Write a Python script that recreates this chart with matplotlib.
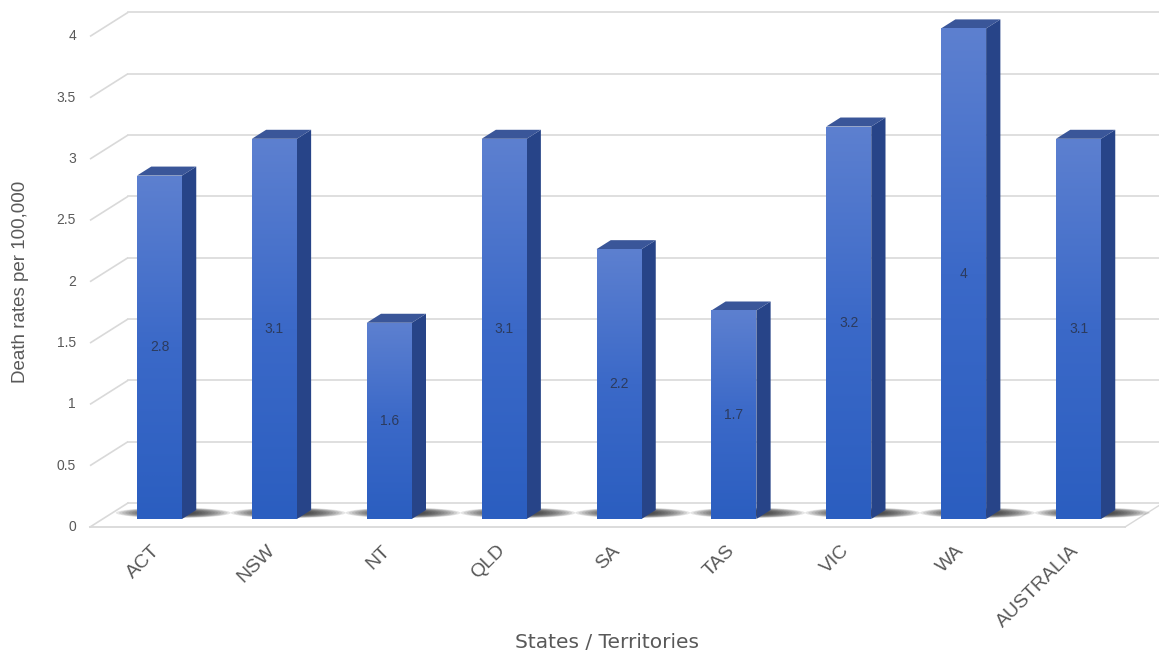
import numpy as np
import matplotlib
matplotlib.use("Agg")
import matplotlib.pyplot as plt
from matplotlib.patches import Polygon, Ellipse
from matplotlib.colors import LinearSegmentedColormap

# ---------------- data ----------------
categories = ["ACT", "NSW", "NT", "QLD", "SA", "TAS", "VIC", "WA", "AUSTRALIA"]
death_rates = [2.8, 3.1, 1.6, 3.1, 2.2, 1.7, 3.2, 4.0, 3.1]
value_labels = ["2.8", "3.1", "1.6", "3.1", "2.2", "1.7", "3.2", "4", "3.1"]
y_ticks = [0, 0.5, 1, 1.5, 2, 2.5, 3, 3.5, 4]
y_tick_labels = ["0", "0.5", "1", "1.5", "2", "2.5", "3", "3.5", "4"]
x_title = "States / Territories"
y_title = "Death rates per 100,000"

# ---------------- layout (pixel calibration) ----------------
W, H = 1159, 655
X0, SX = 159.5, 114.875      # px of first category, px per category
Y0, SY = 519.0, 122.65       # px of value 0 on bar front, px per unit
DDX, DDY = 38 / SX, 24 / SY  # full floor depth in data units
FRONT_FRAC = 1 / 3           # bar front position within depth
BAR_DEPTH = 0.375            # bar depth as fraction of full depth
BAR_W = 45 / SX

fig = plt.figure(figsize=(W / 100, H / 100), dpi=100)
ax = fig.add_axes([0, 0, 1, 1])
ax.set_xlim(-X0 / SX, (W - X0) / SX)
ax.set_ylim((Y0 - H) / SY, Y0 / SY)
ax.axis("off")

def px_x(p):
    return (p - X0) / SX

grid_c = "#d9d9d9"
# floor geometry
fx_left = px_x(90)
fx_right = px_x(1125)
f_front_y = -FRONT_FRAC * DDY
f_back_y = f_front_y + DDY
right_edge = px_x(W + 5)

# wall gridlines (side diagonal + back wall)
for v in y_ticks[1:]:
    ax.plot([fx_left, fx_left + DDX], [v + f_front_y, v + f_back_y],
            color=grid_c, lw=1.2, zorder=1, solid_capstyle="butt")
    ax.plot([fx_left + DDX, right_edge], [v + f_back_y, v + f_back_y],
            color=grid_c, lw=1.2, zorder=1)

# floor outline
ax.plot([fx_left, fx_right], [f_front_y, f_front_y], color=grid_c, lw=1.3, zorder=1)
ax.plot([fx_left, fx_left + DDX], [f_front_y, f_back_y], color=grid_c, lw=1.2, zorder=1)
ax.plot([fx_left + DDX, right_edge], [f_back_y, f_back_y], color=grid_c, lw=1.2, zorder=1)
ax.plot([fx_right, fx_right + DDX], [f_front_y, f_back_y], color=grid_c, lw=1.0, zorder=1)

# y tick labels
for v, lab in zip(y_ticks, y_tick_labels):
    ax.text(px_x(76), v + f_front_y, lab, ha="right", va="center",
            fontsize=10, color="#595959", family="Liberation Sans", zorder=5)

x = np.arange(len(categories))
bdx, bdy = BAR_DEPTH * DDX, BAR_DEPTH * DDY

# soft shadows on the floor
for xi in x:
    cx = xi + 0.12
    cy = 0.05
    for k in range(12):
        w = 1.0 - k * 0.055
        h = 0.085 - k * 0.004
        ax.add_patch(Ellipse((cx, cy), w, h, facecolor="#1a1a1a",
                             edgecolor="none", alpha=0.11, zorder=2))

# bars: front face via ax.bar, gradient fill clipped
bars = ax.bar(x, death_rates, width=BAR_W, color="#3f6cca", edgecolor="none", zorder=4)
cmap = LinearSegmentedColormap.from_list("fr", ["#2b5ec0", "#3b69c8", "#5d80d0"])
grad = np.linspace(0, 1, 256).reshape(-1, 1)
for b, v in zip(bars, death_rates):
    x_l = b.get_x()
    im = ax.imshow(grad, extent=[x_l, x_l + BAR_W, 0, v], origin="lower",
                   cmap=cmap, aspect="auto", zorder=4.1, interpolation="bicubic")
    im.set_clip_path(b)

for xi, v in zip(x, death_rates):
    xr = xi + BAR_W / 2
    xl = xi - BAR_W / 2
    side = Polygon([(xr, 0), (xr + bdx, bdy), (xr + bdx, v + bdy), (xr, v)],
                   closed=True, facecolor="#274488", edgecolor="none", zorder=4)
    top = Polygon([(xl, v), (xr, v), (xr + bdx, v + bdy), (xl + bdx, v + bdy)],
                  closed=True, facecolor="#3a5699", edgecolor="none", zorder=4)
    ax.add_patch(side)
    ax.add_patch(top)

# data labels
for xi, v, lab in zip(x, death_rates, value_labels):
    ax.text(xi, v / 2, lab, ha="center", va="center", fontsize=10,
            color="#2c3b5e", family="Liberation Sans", zorder=6)

# category labels
for xi, lab in zip(x, categories):
    ax.text(xi - 8 / SX, (Y0 - 542) / SY, lab, rotation=45, rotation_mode="anchor",
            ha="right", va="top", fontsize=14, color="#595959",
            family="Liberation Sans", zorder=6)

# axis titles
ax.text(px_x(607), (Y0 - 643) / SY, x_title, ha="center", va="center",
        fontsize=14.5, color="#595959", family="DejaVu Sans", zorder=6)
ax.text(px_x(21), (Y0 - 282) / SY, y_title, ha="center", va="center", rotation=90,
        fontsize=13.5, color="#595959", family="Liberation Sans", zorder=6)

fig.savefig("out.png", dpi=100, facecolor="white")
